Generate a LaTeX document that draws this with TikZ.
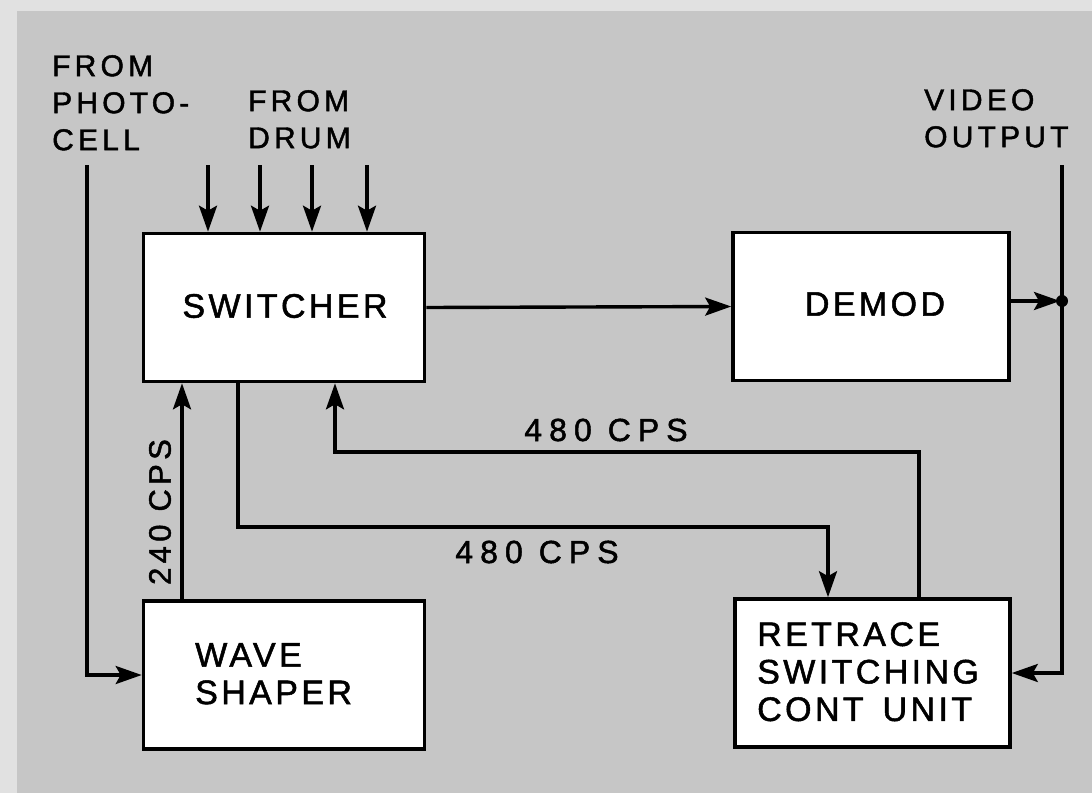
\documentclass[tikz,border=0pt]{standalone}
\usepackage{fontspec}
\setmainfont{Liberation Sans}
\newfontfamily\outerfont[LetterSpace=14,FakeBold=1.5]{Liberation Sans}
\newfontfamily\cpsfont[LetterSpace=22,FakeBold=1.5]{Liberation Sans}
\newfontfamily\boxfont[LetterSpace=10,FakeBold=1.5]{Liberation Sans}
\usetikzlibrary{arrows.meta,calc}
\definecolor{paper}{RGB}{198,198,198}
\definecolor{paperlight}{RGB}{225,225,225}
\begin{document}
\begin{tikzpicture}[x=1pt,y=-1pt,
  blk/.style={draw=black,line width=3.6pt,fill=white,minimum width=281pt,minimum height=148pt,inner sep=0pt},
  wire/.style={draw=black,line width=3.4pt},
  arr/.style={wire,-{Stealth[length=26pt,width=18pt,inset=5pt]}},
  outer/.style={font=\outerfont\fontsize{30}{37}\selectfont,inner sep=0pt,align=left},
  boxtxt/.style={font=\boxfont\fontsize{34}{37.5}\selectfont,inner sep=0pt,align=left},
  cps/.style={font=\outerfont\fontsize{31}{37}\selectfont,inner sep=0pt},
  cpsh/.style={font=\cpsfont\fontsize{32}{37}\selectfont,inner sep=0pt}]
\useasboundingbox (0,0) rectangle (1092,793);
\fill[paperlight] (0,0) rectangle (1092,793);
\fill[paper] (17,11) rectangle (1092,793);
% blocks
\node[blk] (sw) at (284,307.5) {};
\node[blk,minimum width=276pt] (dm) at (871,306.5) {};
\node[blk] (ws) at (284,675) {};
\node[blk,minimum width=275pt] (rt) at (872.5,673) {};
% block texts
\node[boxtxt,anchor=center] (swt) at (285,306) {SWITCHER};
\node[boxtxt,anchor=center] (dmt) at (875,304) {DEMOD};
\node[boxtxt,anchor=north west] (wst) at (195,643) {WAVE\\SHAPER};
\node[boxtxt,anchor=north west] (rtt) at (757,622) {RETRACE\\SWITCHING\\CONT\hspace{6pt} UNIT};
% outer labels
\node[outer,anchor=north west] (pcl) at (52,55) {FROM\\PHOTO-\\CELL};
\node[outer,anchor=north west] (drl) at (248,90) {FROM\\DRUM};
\node[outer,anchor=north west] (vol) at (924,89) {VIDEO\\OUTPUT};
% drum inputs
\foreach \x [count=\i] in {208,260,312,367}{
  \coordinate (d\i) at (\x,165);
  \draw[arr] (d\i) -- (d\i |- sw.north);
}
% photocell
\coordinate (pc) at (87,165);
\draw[arr] (pc) |- (ws.west);
% 240 cps
\draw[arr] ([xshift=-102pt]ws.north) -- ([xshift=-102pt]sw.south);
\node[cps,rotate=90] (l240) at (160,512) {240 CPS};
% switcher -> demod
\draw[arr] (sw.east) -- (dm.west);
% demod -> video output
\coordinate (j) at (1062,301);
\coordinate (vo) at (1062,165);
\draw[arr] (dm.east |- j) -- ([xshift=-2pt]j);
\draw[wire] (vo) -- (j);
\fill (j) circle (6pt);
\draw[arr] (j) |- (rt.east);
% switcher -> retrace
\coordinate (b1) at (238,527);
\draw[arr] (sw.south -| b1) -- (b1) -| ([xshift=-44.5pt]rt.north);
\node[cpsh] (l480b) at (537,552) {480 CPS};
% retrace -> switcher
\coordinate (b2) at (335,452);
\draw[arr] ([xshift=46.5pt]rt.north) |- (b2) -- (b2 |- sw.south);
\node[cpsh] (l480a) at (606,430) {480 CPS};
\end{tikzpicture}
\end{document}
